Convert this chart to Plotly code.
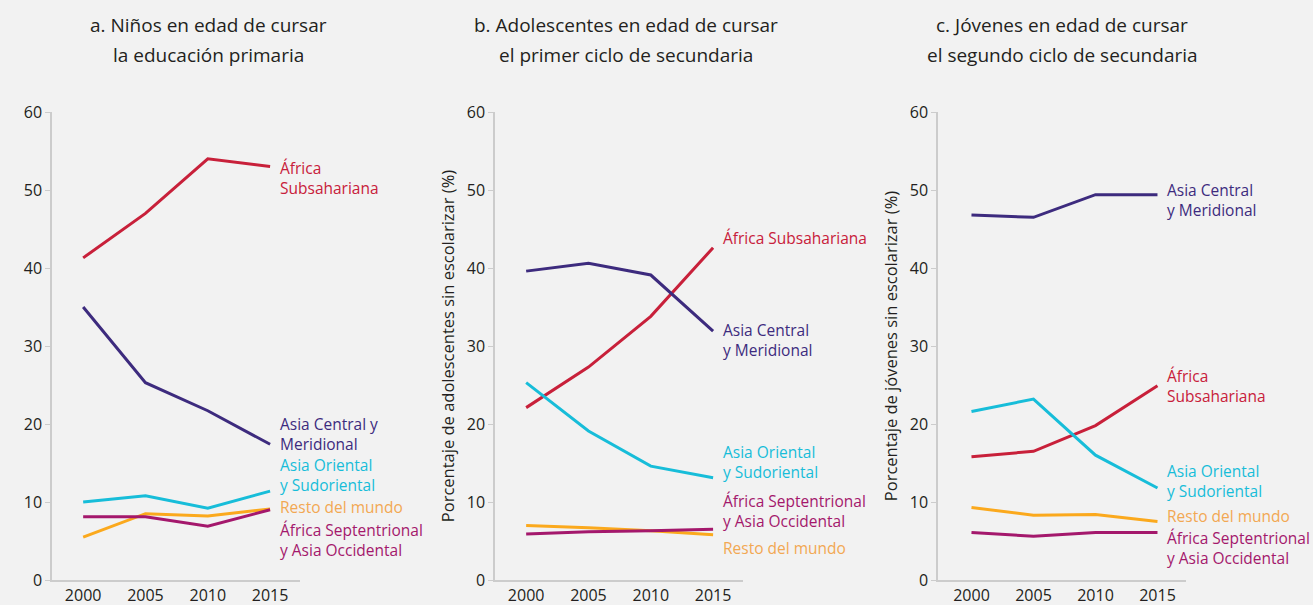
import plotly.graph_objects as go

years = [2000, 2005, 2010, 2015]

series_names = [
    "África Subsahariana",
    "Asia Central y Meridional",
    "Asia Oriental y Sudoriental",
    "Resto del mundo",
    "África Septentrional y Asia Occidental",
]

# Panel a: primary school age
a_ssa = [41.3, 47.0, 54.0, 53.0]
a_csa = [35.0, 25.3, 21.7, 17.4]
a_esa = [10.0, 10.8, 9.2, 11.4]
a_row = [5.5, 8.5, 8.2, 9.1]
a_nawa = [8.1, 8.1, 6.9, 9.0]

# Panel b: lower secondary age
b_ssa = [22.1, 27.3, 33.8, 42.6]
b_csa = [39.6, 40.6, 39.1, 31.9]
b_esa = [25.3, 19.1, 14.6, 13.1]
b_row = [7.0, 6.7, 6.3, 5.8]
b_nawa = [5.9, 6.2, 6.3, 6.5]

# Panel c: upper secondary age
c_ssa = [15.8, 16.5, 19.8, 24.9]
c_csa = [46.8, 46.5, 49.4, 49.4]
c_esa = [21.6, 23.2, 16.0, 11.8]
c_row = [9.3, 8.3, 8.4, 7.5]
c_nawa = [6.1, 5.6, 6.1, 6.1]

titles = [
    ["a. Niños en edad de cursar", "la educación primaria"],
    ["b. Adolescentes en edad de cursar", "el primer ciclo de secundaria"],
    ["c. Jóvenes en edad de cursar", "el segundo ciclo de secundaria"],
]
y_titles = [
    "",
    "Porcentaje de adolescentes sin escolarizar (%)",
    "Porcentaje de jóvenes sin escolarizar (%)",
]
y_ticks = [0, 10, 20, 30, 40, 50, 60]

# label texts and their vertical placement (layout)
labels = [
    [("África<br>Subsahariana", 51.6), ("Asia Central y<br>Meridional", 18.7),
     ("Asia Oriental<br>y Sudoriental", 13.5), ("Resto del mundo", 9.3),
     ("África Septentrional<br>y Asia Occidental", 5.1)],
    [("África Subsahariana", 43.8), ("Asia Central<br>y Meridional", 30.8),
     ("Asia Oriental<br>y Sudoriental", 15.1), ("Resto del mundo", 4.1),
     ("África Septentrional<br>y Asia Occidental", 8.8)],
    [("África<br>Subsahariana", 24.9), ("Asia Central<br>y Meridional", 48.7),
     ("Asia Oriental<br>y Sudoriental", 12.7), ("Resto del mundo", 8.2),
     ("África Septentrional<br>y Asia Occidental", 4.1)],
]

line_colors = ["#C8203A", "#3D2B7E", "#17BDD9", "#FBA91D", "#A4186C"]
label_colors = ["#C8203A", "#3D2B7E", "#17BDD9", "#F2A853", "#A4186C"]

panels = [
    [a_ssa, a_csa, a_esa, a_row, a_nawa],
    [b_ssa, b_csa, b_esa, b_row, b_nawa],
    [c_ssa, c_csa, c_esa, c_row, c_nawa],
]

W, H = 1313, 605
FONT = "Open Sans"
TXT = "#231F20"

# x domains in pixels
x_dom_px = [(52, 300), (495, 743), (938, 1186)]
x_ranges = [[1997.5, 2017.4], [1997.5, 2017.4], [1997.3, 2017.3]]
y_dom = [1 - 580 / H, 1 - 112 / H]
title_cx = [208, 626, 1062]
title_line_y = [25, 55]

fig = go.Figure()
layout = dict(
    width=W, height=H,
    margin=dict(l=0, r=0, t=0, b=0, pad=0, autoexpand=False),
    paper_bgcolor="#F2F2F2", plot_bgcolor="#F2F2F2",
    showlegend=False,
    font=dict(family=FONT, color=TXT, size=15),
)
annotations = []
for p in range(3):
    sfx = "" if p == 0 else str(p + 1)
    xa, ya = "x" + sfx, "y" + sfx
    for i, vals in enumerate(panels[p]):
        fig.add_trace(go.Scatter(
            x=years, y=vals, mode="lines", name=series_names[i],
            line=dict(color=line_colors[i], width=3),
            xaxis=xa, yaxis=ya, hoverinfo="name+y"))
    layout["xaxis" + sfx] = dict(
        domain=[x_dom_px[p][0] / W, x_dom_px[p][1] / W],
        range=x_ranges[p], tickvals=years, ticktext=[str(y) for y in years],
        showgrid=False, zeroline=False, showline=True, linecolor="#CCCCCC",
        linewidth=1.5, ticks="", tickfont=dict(size=16, color=TXT),
        anchor=ya, fixedrange=True, automargin=False)
    layout["yaxis" + sfx] = dict(
        domain=y_dom, range=[0, 60], tickvals=y_ticks,
        showgrid=False, zeroline=False, showline=True, linecolor="#CCCCCC",
        linewidth=1.5, ticks="outside", ticklen=5, tickcolor="#CCCCCC",
        tickfont=dict(size=16, color=TXT), anchor=xa, fixedrange=True,
        automargin=False,
        title=dict(text=y_titles[p], font=dict(size=16.5, color=TXT), standoff=8))
    for k, line in enumerate(titles[p]):
        annotations.append(dict(
            text=line, xref="paper", yref="paper",
            x=title_cx[p] / W, y=1 - title_line_y[k] / H,
            xanchor="center", yanchor="middle",
            showarrow=False, font=dict(size=19, color=TXT)))
    for i, (txt, yv) in enumerate(labels[p]):
        annotations.append(dict(
            text=txt, xref=xa, yref=ya, x=years[-1], y=yv,
            xanchor="left", yanchor="middle", xshift=9, borderpad=0,
            showarrow=False, align="left",
            font=dict(size=15.5, color=label_colors[i])))

layout["annotations"] = annotations
fig.update_layout(**layout)
fig.write_html(
    "out.html",
    config={"displayModeBar": False},
    post_script="document.body.style.margin='0';document.body.style.background='#F2F2F2';",
)
